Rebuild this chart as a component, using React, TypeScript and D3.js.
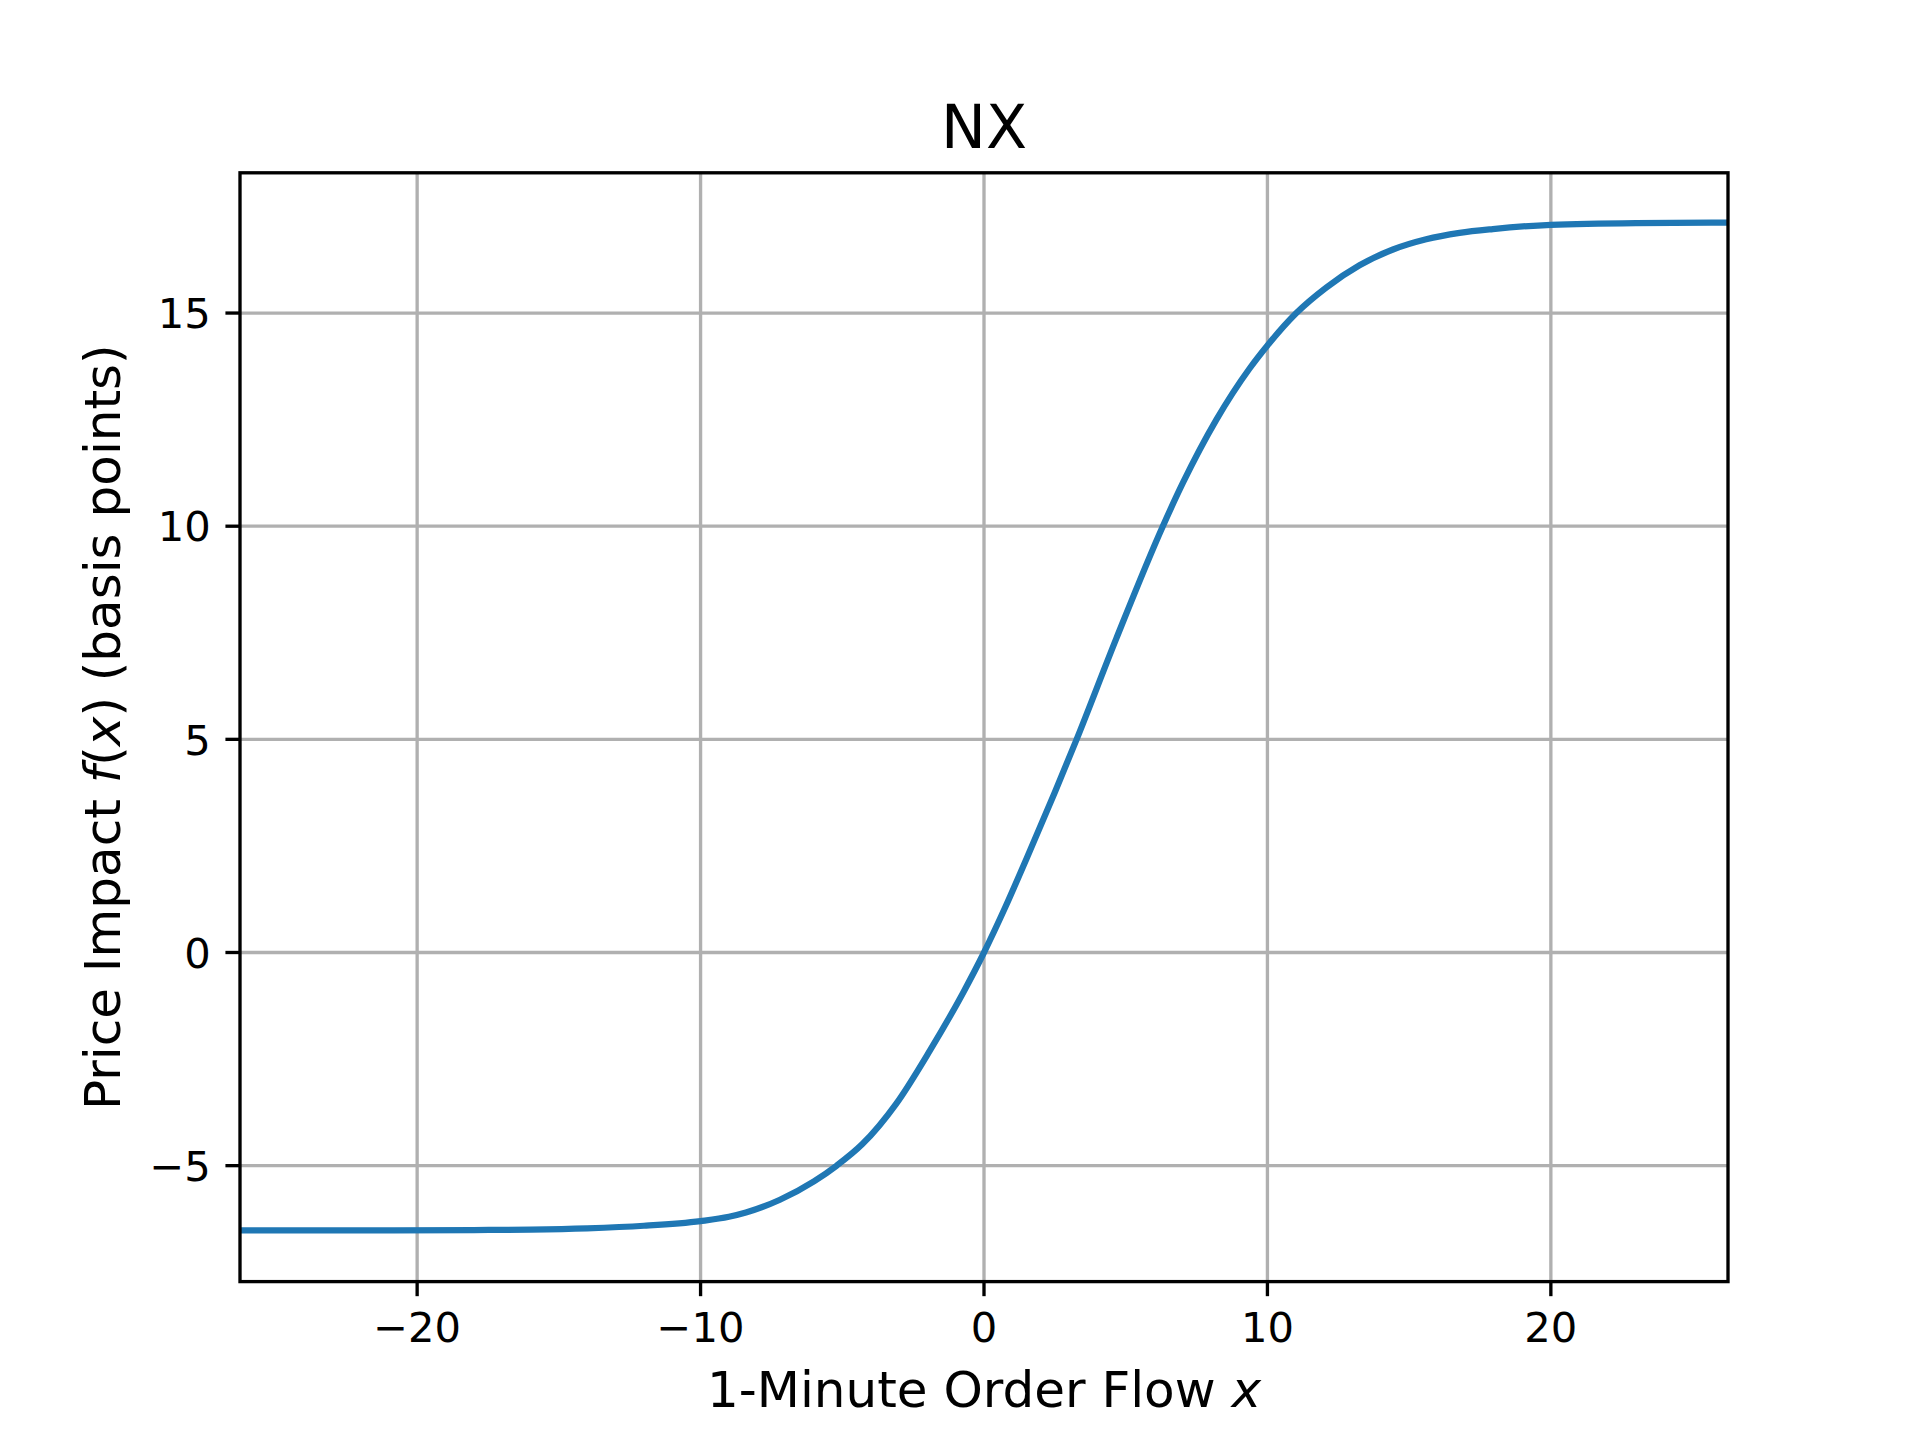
import React from 'react';
import * as d3 from 'd3';

// Data
const flowX = [
  -26.25, -22, -18, -16, -14, -12, -10, -9, -8.4, -7.2, -6, -5.2, -4.3, -3.1, -1.9, -0.75,
  0, 0.75, 1.5, 2.5, 3.25, 4.67, 6.31, 7.02, 8.2, 9.37, 10.0, 11.02, 12.08, 13.25, 14.43,
  15.6, 16.78, 17.95, 20, 23, 26.25,
];
const impactY = [
  -6.52, -6.52, -6.51, -6.5, -6.47, -6.41, -6.3, -6.2, -6.1, -5.8, -5.37, -5.0, -4.5, -3.55, -2.29, -0.96,
  0, 1.06, 2.2, 3.76, 4.97, 7.37, 10.0, 11.02, 12.5, 13.7, 14.24, 15.0, 15.6, 16.12, 16.49,
  16.73, 16.88, 16.97, 17.07, 17.11, 17.12,
];
const xTickValues = [-20, -10, 0, 10, 20];
const yTickValues = [-5, 0, 5, 10, 15];
const xLimits = [-26.25, 26.25];
const yLimits = [-7.72, 18.29];
const chartTitle = 'NX';

const fmt = (v: number) => (v < 0 ? '\u2212' + Math.abs(v) : String(v));

export default function App() {
  const W = 1920;
  const H = 1440;
  const L = 240;
  const R = 1728;
  const T = 172.8;
  const B = 1281.6;
  const x = d3.scaleLinear().domain(xLimits).range([L, R]);
  const y = d3.scaleLinear().domain(yLimits).range([B, T]);
  const pts: [number, number][] = flowX.map((v, i) => [v, impactY[i]]);
  const line = d3
    .line<[number, number]>()
    .x((d) => x(d[0]))
    .y((d) => y(d[1]))
    .curve(d3.curveMonotoneX);

  const lw = 3.33;
  const tickLen = 14.58;
  const tickFont = 41.67;
  const labelFont = 50;

  return (
    <svg
      width={W}
      height={H}
      style={{ position: 'absolute', left: 0, top: 0, background: '#fff' }}
      fontFamily="'DejaVu Sans', sans-serif"
    >
      <rect x={0} y={0} width={W} height={H} fill="#fff" />
      <defs>
        <clipPath id="plotclip">
          <rect x={L} y={T} width={R - L} height={B - T} />
        </clipPath>
      </defs>
      {/* grid */}
      <g stroke="#b0b0b0" strokeWidth={lw}>
        {xTickValues.map((v) => (
          <line key={'gx' + v} x1={x(v)} x2={x(v)} y1={T} y2={B} />
        ))}
        {yTickValues.map((v) => (
          <line key={'gy' + v} x1={L} x2={R} y1={y(v)} y2={y(v)} />
        ))}
      </g>
      {/* series */}
      <path
        d={line(pts) || ''}
        fill="none"
        stroke="#1f77b4"
        strokeWidth={6.25}
        strokeLinejoin="round"
        clipPath="url(#plotclip)"
      />
      {/* spines */}
      <rect x={L} y={T} width={R - L} height={B - T} fill="none" stroke="#000" strokeWidth={lw} />
      {/* x ticks */}
      <g>
        {xTickValues.map((v) => (
          <g key={'xt' + v}>
            <line x1={x(v)} x2={x(v)} y1={B} y2={B + tickLen} stroke="#000" strokeWidth={lw} />
            <text x={x(v)} y={1342} fontSize={tickFont} textAnchor="middle" fill="#000">
              {fmt(v)}
            </text>
          </g>
        ))}
      </g>
      {/* y ticks */}
      <g>
        {yTickValues.map((v) => (
          <g key={'yt' + v}>
            <line x1={L - tickLen} x2={L} y1={y(v)} y2={y(v)} stroke="#000" strokeWidth={lw} />
            <text x={L - 2 * tickLen} y={y(v) + 15.2} fontSize={tickFont} textAnchor="end" fill="#000">
              {fmt(v)}
            </text>
          </g>
        ))}
      </g>
      {/* x label */}
      <text x={(L + R) / 2} y={1407} fontSize={labelFont} textAnchor="middle" fill="#000">
        1-Minute Order Flow <tspan fontStyle="italic">x</tspan>
      </text>
      {/* y label */}
      <text
        transform={`translate(120, ${(T + B) / 2}) rotate(-90)`}
        fontSize={labelFont}
        textAnchor="middle"
        fill="#000"
      >
        Price Impact <tspan fontStyle="italic">f</tspan>(<tspan fontStyle="italic">x</tspan>) (basis points)
      </text>
      {/* title */}
      <text x={(L + R) / 2} y={148} fontSize={60} textAnchor="middle" fill="#000">
        {chartTitle}
      </text>
    </svg>
  );
}
